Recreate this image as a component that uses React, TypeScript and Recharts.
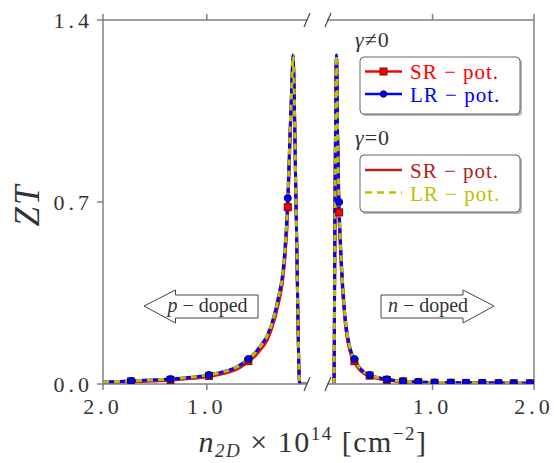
import { LineChart, Line, XAxis, YAxis } from 'recharts'

// p-doped side (carrier density as negative numbers, shown as |n|)
const leftX = [-2.0, -1.85, -1.73, -1.6, -1.5, -1.35, -1.2, -1.1, -0.98, -0.85, -0.72, -0.615, -0.55, -0.49, -0.42, -0.374, -0.31, -0.26, -0.22, -0.198, -0.18, -0.17, -0.14, -0.105, -0.04]
const leftSR1 = [0.006, 0.008, 0.010, 0.012, 0.013, 0.016, 0.021, 0.024, 0.031, 0.041, 0.058, 0.085, 0.105, 0.133, 0.173, 0.22, 0.318, 0.44, 0.68, 0.95, 1.15, 1.26, 0.68, 0.0, 0.0]
const leftLR1 = [0.008, 0.010, 0.012, 0.014, 0.016, 0.019, 0.024, 0.028, 0.035, 0.046, 0.064, 0.092, 0.114, 0.143, 0.185, 0.233, 0.335, 0.46, 0.715, 0.977, 1.17, 1.265, 0.68, 0.0, 0.0]
const leftSR0 = [0.005, 0.007, 0.009, 0.011, 0.012, 0.015, 0.020, 0.023, 0.029, 0.039, 0.055, 0.082, 0.102, 0.129, 0.168, 0.215, 0.31, 0.432, 0.672, 0.945, 1.145, 1.255, 0.68, 0.0, 0.0]
const leftLR0 = [0.008, 0.010, 0.012, 0.014, 0.016, 0.019, 0.024, 0.028, 0.035, 0.046, 0.064, 0.091, 0.113, 0.142, 0.184, 0.232, 0.333, 0.458, 0.712, 0.975, 1.168, 1.263, 0.68, 0.0, 0.0]

const leftMarkX = [-1.73, -1.35, -0.98, -0.6, -0.22]
const leftMarkSR = [0.010, 0.016, 0.031, 0.088, 0.68]
const leftMarkLR = [0.012, 0.019, 0.035, 0.096, 0.715]

// n-doped side
const rightX = [0.03, 0.054, 0.064, 0.077, 0.09, 0.103, 0.136, 0.185, 0.235, 0.3, 0.38, 0.46, 0.55, 0.71, 0.86, 1.0, 1.2, 1.5, 1.75, 2.0]
const rightSR1 = [0.0, 1.26, 0.96, 0.68, 0.55, 0.44, 0.255, 0.133, 0.085, 0.05, 0.032, 0.023, 0.016, 0.010, 0.007, 0.005, 0.004, 0.004, 0.003, 0.003]
const rightLR1 = [0.0, 1.265, 0.977, 0.715, 0.57, 0.46, 0.27, 0.143, 0.092, 0.055, 0.035, 0.025, 0.018, 0.011, 0.008, 0.006, 0.005, 0.004, 0.003, 0.003]
const rightSR0 = [0.0, 1.255, 0.95, 0.67, 0.54, 0.43, 0.248, 0.128, 0.081, 0.047, 0.030, 0.021, 0.015, 0.009, 0.006, 0.005, 0.004, 0.003, 0.003, 0.003]
const rightLR0 = [0.0, 1.263, 0.975, 0.712, 0.568, 0.458, 0.268, 0.142, 0.091, 0.054, 0.035, 0.025, 0.018, 0.011, 0.008, 0.006, 0.005, 0.004, 0.003, 0.003]

const rightMarkX = [0.08, 0.23, 0.38, 0.55, 0.71, 0.86, 1.02, 1.18, 1.33, 1.49, 1.65, 1.8, 1.96]
const rightMarkSR = [0.66, 0.088, 0.032, 0.016, 0.010, 0.007, 0.005, 0.005, 0.004, 0.004, 0.003, 0.003, 0.003]
const rightMarkLR = [0.70, 0.096, 0.035, 0.018, 0.011, 0.008, 0.006, 0.005, 0.005, 0.004, 0.004, 0.003, 0.003]

const yTicks = [0, 0.7, 1.4]

const pts = (xs: number[], ys: number[]) => xs.map((x, i) => ({ x, y: ys[i] }))

const RED = '#ff0000'
const BLUE = '#0000ff'
const BROWN = '#b22222'
const YELLOW = '#bfbf00'
const AXIS = '#808080'
const TXT = '#333333'
const FONT = '"Liberation Serif", "DejaVu Serif", serif'

const tickStyle = { fontSize: 22, fill: TXT, fontFamily: FONT, letterSpacing: 4 }

const square = (p: any) =>
  p.cx == null ? <g key={p.index} /> : (
    <rect key={p.index} x={p.cx - 3.5} y={p.cy - 3.5} width={7} height={7} fill={RED} stroke="#6b1010" strokeWidth={1} />
  )
const circle = (p: any) =>
  p.cx == null ? <g key={p.index} /> : (
    <circle key={p.index} cx={p.cx} cy={p.cy} r={3.5} fill={BLUE} stroke="#00006b" strokeWidth={1} />
  )

function Series({ xs, sr1, lr1, sr0, lr0, mx, msr, mlr }: any) {
  return [
    <Line key="sr0" data={pts(xs, sr0)} dataKey="y" type="monotone" stroke={BROWN} strokeWidth={3} dot={false} activeDot={false} isAnimationActive={false} />,
    <Line key="sr1" data={pts(xs, sr1)} dataKey="y" type="monotone" stroke={RED} strokeWidth={3} dot={false} activeDot={false} isAnimationActive={false} />,
    <Line key="lr1" data={pts(xs, lr1)} dataKey="y" type="monotone" stroke={BLUE} strokeWidth={3} dot={false} activeDot={false} isAnimationActive={false} />,
    <Line key="lr0" data={pts(xs, lr0)} dataKey="y" type="monotone" stroke={YELLOW} strokeWidth={3} strokeDasharray="6 5" dot={false} activeDot={false} isAnimationActive={false} />,
    <Line key="msr" data={pts(mx, msr)} dataKey="y" stroke="none" dot={square} activeDot={false} isAnimationActive={false} />,
    <Line key="mlr" data={pts(mx, mlr)} dataKey="y" stroke="none" dot={circle} activeDot={false} isAnimationActive={false} />,
  ]
}

const fmtAbs = (v: number) => Math.abs(v).toFixed(1)

export default function App() {
  return (
    <div style={{ position: 'absolute', left: 0, top: 0, width: 554, height: 463, background: '#fff' }}>
      <div style={{ position: 'absolute', left: 0, top: 0 }}>
        <LineChart width={315} height={463} margin={{ top: 19, right: 8, bottom: 0, left: 0 }}>
          <XAxis dataKey="x" type="number" domain={[-2.0, -0.035]} allowDataOverflow ticks={[-2, -1]} tickFormatter={fmtAbs}
            height={79} tickSize={6} tickMargin={8} stroke={AXIS} strokeWidth={1.5} tick={tickStyle} />
          <XAxis xAxisId="top" orientation="top" dataKey="x" type="number" domain={[-2.0, -0.035]} allowDataOverflow ticks={[-2, -1]}
            tickFormatter={() => ''} height={1} tickSize={6} stroke={AXIS} strokeWidth={1.5} />
          <YAxis type="number" domain={[0, 1.4]} allowDataOverflow ticks={yTicks} tickFormatter={(v: number) => v.toFixed(1)}
            width={103} tickSize={6} tickMargin={4} stroke={AXIS} strokeWidth={1.5} tick={tickStyle} />
          {Series({ xs: leftX, sr1: leftSR1, lr1: leftLR1, sr0: leftSR0, lr0: leftLR0, mx: leftMarkX, msr: leftMarkSR, mlr: leftMarkLR })}
        </LineChart>
      </div>
      <div style={{ position: 'absolute', left: 320, top: 0 }}>
        <LineChart width={234} height={463} margin={{ top: 19, right: 19, bottom: 0, left: 7 }}>
          <XAxis dataKey="x" type="number" domain={[-0.04, 2.0]} allowDataOverflow ticks={[1, 2]} tickFormatter={fmtAbs}
            height={79} tickSize={6} tickMargin={8} stroke={AXIS} strokeWidth={1.5} tick={tickStyle} />
          <XAxis xAxisId="top" orientation="top" dataKey="x" type="number" domain={[-0.04, 2.0]} allowDataOverflow ticks={[1, 2]}
            tickFormatter={() => ''} height={1} tickSize={6} stroke={AXIS} strokeWidth={1.5} />
          <YAxis orientation="right" type="number" domain={[0, 1.4]} allowDataOverflow ticks={yTicks}
            width={1} tick={false} tickLine={false} stroke={AXIS} strokeWidth={1.5} />
          {Series({ xs: rightX, sr1: rightSR1, lr1: rightLR1, sr0: rightSR0, lr0: rightLR0, mx: rightMarkX, msr: rightMarkSR, mlr: rightMarkLR })}
        </LineChart>
      </div>

      <svg width={554} height={463} style={{ position: 'absolute', left: 0, top: 0, pointerEvents: 'none' }} fontFamily={FONT}>
        {/* axis breaks */}
        <g stroke="#444" strokeWidth={1.2}>
          <line x1={304} y1={391} x2={310} y2={377} />
          <line x1={325} y1={391} x2={331} y2={377} />
          <line x1={304} y1={27} x2={310} y2={13} />
          <line x1={325} y1={27} x2={331} y2={13} />
        </g>

        {/* doping arrows */}
        <polygon points="144,306 175.5,290 175.5,295 258,295 258,318 175.5,318 175.5,323" fill="#fff" stroke="#444" strokeWidth={1} />
        <text x={207.5} y={312} textAnchor="middle" fontSize={20} fill={TXT}>
          <tspan fontStyle="italic">p</tspan> − doped
        </text>
        <polygon points="381,295 463,295 463,290 494,306 463,323 463,318 381,318" fill="#fff" stroke="#444" strokeWidth={1} />
        <text x={428} y={312} textAnchor="middle" fontSize={20} fill={TXT}>
          <tspan fontStyle="italic">n</tspan> − doped
        </text>

        {/* legend gamma != 0 */}
        <text x={355} y={47} fontSize={22} fill={TXT} letterSpacing={1}>
          <tspan fontStyle="italic">γ</tspan>≠0
        </text>
        <rect x={362} y={59} width={160} height={57} rx={4} fill="#b5b5b5" />
        <rect x={360} y={57} width={160} height={57} rx={4} fill="#fff" stroke="#666" strokeWidth={1} />
        <line x1={365} y1={71.5} x2={402} y2={71.5} stroke={RED} strokeWidth={2.5} />
        <rect x={380} y={68} width={7} height={7} fill={RED} stroke="#6b1010" strokeWidth={1} />
        <text x={410} y={79} fontSize={21} fill={RED} letterSpacing={1}>SR − pot.</text>
        <line x1={365} y1={94} x2={402} y2={94} stroke={BLUE} strokeWidth={2.5} />
        <circle cx={383.5} cy={94} r={3.2} fill={BLUE} stroke="#00006b" strokeWidth={1} />
        <text x={410} y={101.5} fontSize={21} fill={BLUE} letterSpacing={1}>LR − pot.</text>

        {/* legend gamma = 0 */}
        <text x={355} y={145} fontSize={22} fill={TXT} letterSpacing={1}>
          <tspan fontStyle="italic">γ</tspan>=0
        </text>
        <rect x={362} y={157} width={160} height={57} rx={4} fill="#b5b5b5" />
        <rect x={360} y={155} width={160} height={57} rx={4} fill="#fff" stroke="#666" strokeWidth={1} />
        <line x1={365} y1={170} x2={402} y2={170} stroke={BROWN} strokeWidth={2.5} />
        <text x={410} y={178} fontSize={21} fill={BROWN} letterSpacing={1}>SR − pot.</text>
        <line x1={365} y1={192.5} x2={402} y2={192.5} stroke={YELLOW} strokeWidth={2.5} strokeDasharray="7 5" />
        <text x={410} y={200.5} fontSize={21} fill={YELLOW} letterSpacing={1}>LR − pot.</text>

        {/* axis labels */}
        <text x={0} y={0} transform="translate(39,205) rotate(-90)" textAnchor="middle" fontSize={35} fill={TXT} fontStyle="italic" letterSpacing={2}>
          ZT
        </text>
        <text x={313} y={452} textAnchor="middle" fontSize={30} fill={TXT} letterSpacing={1.5}>
          <tspan fontStyle="italic">n</tspan>
          <tspan fontSize={19} fontStyle="italic" dy={5}>2D</tspan>
          <tspan dy={-5}> × 10</tspan>
          <tspan fontSize={19} dy={-12}>14</tspan>
          <tspan dy={12}> [cm</tspan>
          <tspan fontSize={19} dy={-12}>−2</tspan>
          <tspan dy={12}>]</tspan>
        </text>
      </svg>
    </div>
  )
}
